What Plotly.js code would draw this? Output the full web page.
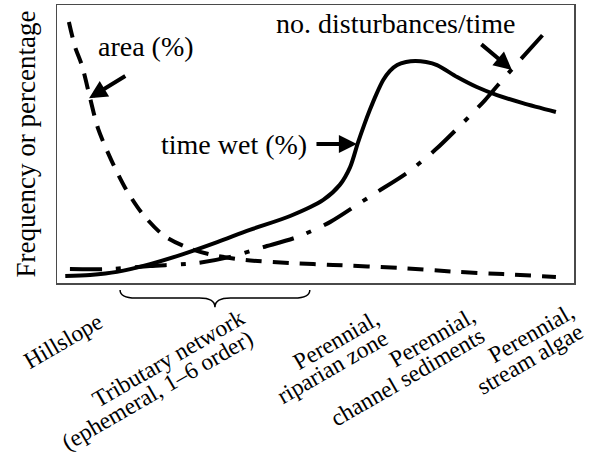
<!DOCTYPE html>
<html>
<head>
<meta charset="utf-8">
<script src="https://cdn.plot.ly/plotly-3.0.1.min.js"></script>
<style>html,body{margin:0;padding:0;background:#fff;}#chart{width:592px;height:454px;}</style>
</head>
<body>
<div id="chart"></div>
<script>
// Conceptual gradient position along the landscape (0 = upslope, 100 = stream algae)
const areaX = [2.3, 3.5, 4.8, 6.4, 7.9, 10.3, 13.2, 16.4, 20.5, 25.0, 30.0, 36.4, 45.1, 53.4, 66.3, 77.4, 86.3, 96.5];
const areaY = [93.9, 84.9, 78.4, 66.5, 55.8, 45.0, 34.2, 25.2, 17.3, 12.9, 10.1, 8.3, 7.2, 6.5, 5.4, 4.0, 3.2, 2.2];

const wetX = [1.6, 6.4, 11.6, 18.0, 24.4, 31.0, 37.3, 45.1, 51.5, 54.7, 56.7, 58.2, 59.4, 60.5, 61.7, 63.1, 64.4, 65.8, 67.5, 69.3, 71.4, 73.5, 77.4, 81.2, 85.1, 90.1, 96.5];
const wetY = [2.5, 2.9, 4.0, 6.8, 10.4, 14.7, 19.1, 24.1, 29.9, 35.3, 41.7, 50.4, 56.8, 62.2, 67.6, 73.0, 76.3, 78.4, 79.5, 79.9, 79.5, 78.4, 74.1, 70.5, 67.6, 64.7, 61.5];

const distX = [2.5, 9.7, 18.0, 27.1, 33.5, 39.9, 46.4, 52.8, 58.6, 61.9, 67.7, 73.1, 78.3, 82.8, 85.3, 89.9, 95.7];
const distY = [5.0, 5.0, 6.1, 7.2, 9.4, 12.9, 16.5, 21.9, 28.8, 32.7, 39.6, 47.8, 57.2, 65.8, 71.2, 80.9, 92.8];

// category positions along the gradient and their (two-line) labels
const tickPositions = [8.2, 35.8, 61.8, 80.5, 99.6];
const categoryLines = [
  ['Hillslope'],
  ['Tributary network', '(ephemeral, 1–6 order)'],
  ['Perennial,', 'riparian zone'],
  ['Perennial,', 'channel sediments'],
  ['Perennial,', 'stream algae']
];
const tributaryRange = [12.2, 48.9];

const seriesNames = ['area (%)', 'time wet (%)', 'no. disturbances/time'];

// ---- styling / placement ----
const FONT = 'Liberation Serif, Times New Roman, serif';
const labelDrop = [22.7, 18.7, 19.7, 16.7, 12.7];   // px below the axis of each label's top
const LABEL_ANGLE = -30, LINE_DX = 8, LINE_DY = 20, LABEL_DX = 10;

const traces = [
  {x: areaX, y: areaY, type: 'scatter', mode: 'lines', name: seriesNames[0],
   line: {color: '#000', width: 4, dash: '16px,11px', shape: 'spline', smoothing: 0.8}},
  {x: wetX, y: wetY, type: 'scatter', mode: 'lines', name: seriesNames[1],
   line: {color: '#000', width: 4, shape: 'spline', smoothing: 0.8}},
  {x: distX, y: distY, type: 'scatter', mode: 'lines', name: seriesNames[2],
   line: {color: '#000', width: 4, dash: '32px,14px,5px,14px', shape: 'spline', smoothing: 0.8}}
];

// curly brace under the tributary network range
const b0 = tributaryRange[0], b1 = tributaryRange[1], bc = (b0 + b1) / 2, d = 3;
const yTop = -0.025, yMid = -0.054, yTip = -0.087;
const bracePath = `M${b0},${yTop} Q${b0},${yMid} ${b0 + d},${yMid} L${bc - d},${yMid} Q${bc},${yMid} ${bc},${yTip} ` +
                  `Q${bc},${yMid} ${bc + d},${yMid} L${b1 - d},${yMid} Q${b1},${yMid} ${b1},${yTop}`;

const textFont = {family: FONT, size: 28, color: '#000'};
const tickFont = {family: FONT, size: 23.5, color: '#000'};
const arrowStyle = {showarrow: true, arrowhead: 2, arrowsize: 0.9, arrowwidth: 4, arrowcolor: '#000',
                    axref: 'x', ayref: 'y', text: '', standoff: 0, startstandoff: 0};

// rotated category labels, placed on the x scale below the axis
const categoryAnnotations = [];
categoryLines.forEach(function (lines, k) {
  lines.forEach(function (line, i) {
    categoryAnnotations.push({
      xref: 'x', x: tickPositions[k], yref: 'paper', y: 0,
      xanchor: 'right', yanchor: 'top',
      xshift: LABEL_DX + i * LINE_DX, yshift: -(labelDrop[k] + i * LINE_DY),
      text: line, textangle: LABEL_ANGLE, showarrow: false, font: tickFont
    });
  });
});

const layout = {
  width: 592, height: 454,
  margin: {l: 57, r: 18, t: 5, b: 171},
  paper_bgcolor: '#fff', plot_bgcolor: '#fff',
  showlegend: false,
  xaxis: {
    range: [0, 100], showgrid: false, zeroline: false,
    showline: true, mirror: true, linecolor: '#4a4a4a', linewidth: 1.5,
    ticks: '', showticklabels: false
  },
  yaxis: {
    range: [0, 100], showgrid: false, zeroline: false,
    showline: true, mirror: true, linecolor: '#4a4a4a', linewidth: 1.5,
    ticks: '', showticklabels: false,
    title: {text: 'Frequency or percentage', font: {family: FONT, size: 27, color: '#000'}, standoff: 12}
  },
  shapes: [
    {type: 'path', xref: 'x', yref: 'paper', path: bracePath, line: {color: '#000', width: 1.5}}
  ],
  annotations: [
    {x: 17.2, y: 84.9, xref: 'x', yref: 'y', text: seriesNames[0], showarrow: false, font: textFont},
    {x: 34.2, y: 50.0, xref: 'x', yref: 'y', text: seriesNames[1], showarrow: false, font: textFont},
    {x: 65.6, y: 93.2, xref: 'x', yref: 'y', text: seriesNames[2], showarrow: false, font: textFont},
    Object.assign({x: 6.2, y: 66.5, ax: 13.5, ay: 74.8, xref: 'x', yref: 'y'}, arrowStyle),
    Object.assign({x: 58.0, y: 50.0, ax: 49.9, ay: 50.0, xref: 'x', yref: 'y'}, arrowStyle),
    Object.assign({x: 88.0, y: 76.6, ax: 81.8, ay: 86.3, xref: 'x', yref: 'y'}, arrowStyle)
  ].concat(categoryAnnotations)
};

Plotly.newPlot('chart', traces, layout, {displayModeBar: false, staticPlot: true});
</script>
</body>
</html>
